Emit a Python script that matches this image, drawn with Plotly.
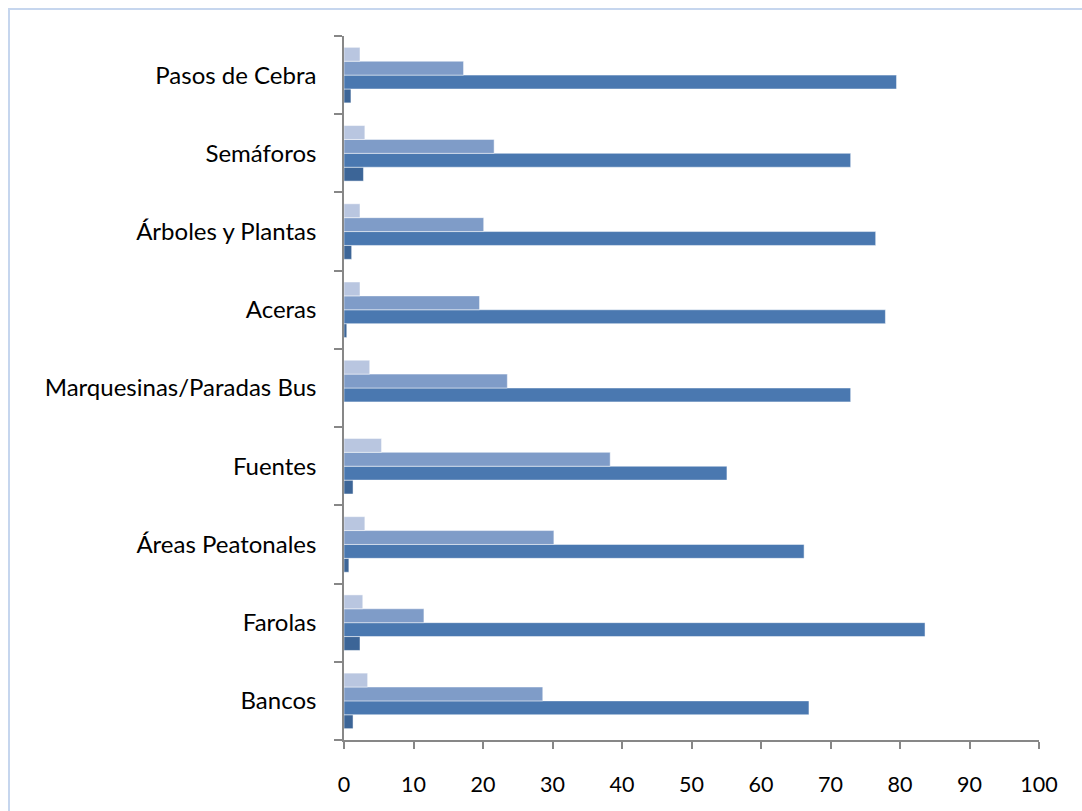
import plotly.graph_objects as go

categories = ["Bancos", "Farolas", "Áreas Peatonales", "Fuentes",
              "Marquesinas/Paradas Bus", "Aceras", "Árboles y Plantas",
              "Semáforos", "Pasos de Cebra"]

serie_oscura = [1.3, 2.3, 0.7, 1.3, 0.0, 0.4, 1.1, 2.8, 1.0]
serie_principal = [66.9, 83.6, 66.2, 55.1, 72.9, 77.9, 76.5, 72.9, 79.5]
serie_media = [28.6, 11.5, 30.2, 38.3, 23.5, 19.5, 20.1, 21.6, 17.2]
serie_clara = [3.4, 2.7, 3.0, 5.4, 3.7, 2.3, 2.3, 3.0, 2.3]

x_ticks = [0, 10, 20, 30, 40, 50, 60, 70, 80, 90, 100]

series = [
    ("oscura", serie_oscura, "#3C6597"),
    ("principal", serie_principal, "#4A78B0"),
    ("media", serie_media, "#7F9CC8"),
    ("clara", serie_clara, "#B9C6E0"),
]

fig = go.Figure()
for name, vals, col in series:
    fig.add_trace(go.Bar(
        y=categories, x=vals, name=name, orientation="h",
        marker=dict(color=col, line=dict(color="rgba(255,255,255,0.6)", width=0.8)),
        showlegend=False,
    ))

W, H = 1082, 811
L, R, T, B = 344, 43, 36, 71
pw, ph = W - L - R, H - T - B

def px_x(p):
    return (p - L) / pw

def px_y(p):
    return (H - B - p) / ph

fig.update_layout(
    width=W, height=H,
    margin=dict(l=L, r=R, t=T, b=B),
    barmode="group", bargap=0.29, bargroupgap=0,
    plot_bgcolor="white", paper_bgcolor="white",
    font=dict(family="Lato, Carlito, Calibri, sans-serif", size=21, color="#000000"),
    xaxis=dict(range=[0, 100], tickvals=x_ticks, ticktext=[str(v) for v in x_ticks],
               showgrid=False, zeroline=False, showline=True, linecolor="#878787",
               linewidth=1.5, ticks="outside", ticklen=7, tickcolor="#878787",
               tickwidth=1.5, ticklabelstandoff=17, tickfont=dict(size=21.5),
               fixedrange=True),
    yaxis=dict(categoryorder="array", categoryarray=categories,
               showgrid=False, zeroline=False, showline=True, linecolor="#878787",
               linewidth=1.5, ticks="outside", ticklen=8, tickcolor="#878787",
               tickwidth=1.5, tickson="boundaries", ticklabelstandoff=21,
               tickfont=dict(size=24), fixedrange=True),
    shapes=[dict(type="rect", xref="paper", yref="paper",
                 x0=px_x(9), x1=px_x(1100), y0=px_y(830), y1=px_y(9),
                 line=dict(color="#C6D6EE", width=2), fillcolor="rgba(0,0,0,0)",
                 layer="below")],
)

fig.write_html("out.html", config={"displayModeBar": False},
               post_script="document.body.style.margin='0';document.body.style.overflow='hidden';")
